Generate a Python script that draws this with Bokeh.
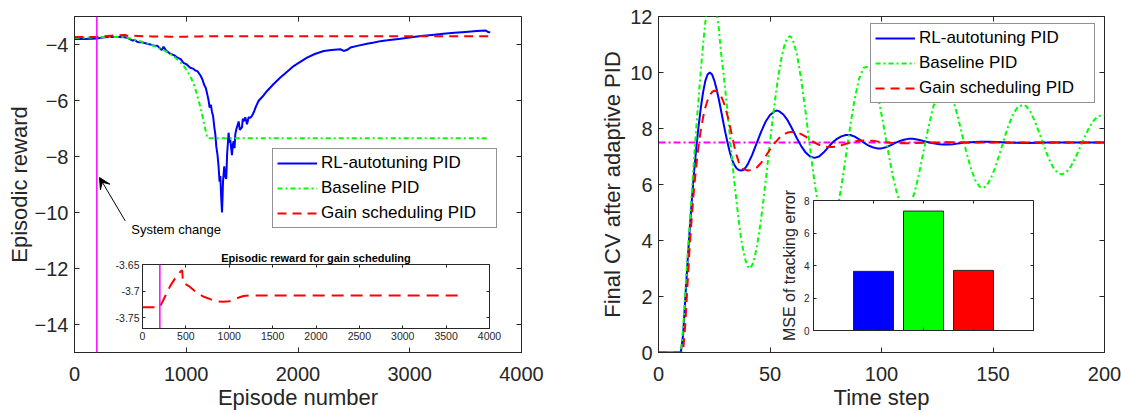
from bokeh.plotting import figure
from bokeh.layouts import row, column
from bokeh.models import (Legend, LegendItem, LinearAxis, FixedTicker, Range1d,
                          Arrow, VeeHead, Label, Span)
from bokeh.embed import file_html
from bokeh.resources import INLINE

# ---------------- data: left panel (episodic reward) ----------------
rl_reward_pts = [
    (0, -3.80), (100, -3.80), (200, -3.79), (250, -3.75), (300, -3.73), (350, -3.73),
    (400, -3.73), (450, -3.74), (480, -3.77), (500, -3.82), (520, -3.86), (540, -3.84),
    (560, -3.90), (580, -3.92), (600, -3.91), (620, -3.94), (650, -3.97), (680, -4.00),
    (700, -4.03), (720, -4.05), (740, -4.04), (760, -4.12), (780, -4.20), (797, -4.08),
    (820, -4.22), (857, -4.33), (890, -4.38), (917, -4.46), (950, -4.52), (976, -4.66),
    (1000, -4.70), (1036, -4.83), (1060, -4.86), (1081, -4.93), (1100, -4.95), (1126, -5.10),
    (1145, -5.25), (1161, -5.45), (1175, -5.55), (1185, -5.72), (1200, -6.00), (1209, -6.25),
    (1220, -6.15), (1230, -6.40), (1240, -6.55), (1251, -6.95), (1260, -7.20), (1269, -7.65),
    (1280, -7.95), (1290, -8.40), (1298, -8.90), (1305, -8.70), (1312, -9.40), (1320, -10.00),
    (1326, -9.30), (1329, -8.90), (1335, -8.60), (1340, -8.35), (1348, -8.70), (1358, -8.80),
    (1366, -7.90), (1379, -7.15), (1386, -7.50), (1394, -7.40), (1402, -7.70), (1409, -7.95),
    (1416, -7.60), (1424, -7.45), (1432, -7.70), (1439, -7.20), (1450, -7.00), (1469, -6.75),
    (1480, -7.05), (1499, -6.95), (1506, -6.65), (1513, -6.75), (1528, -6.60), (1544, -6.85),
    (1558, -6.60), (1573, -6.62), (1588, -6.55), (1603, -6.43), (1625, -6.20), (1648, -6.01),
    (1685, -5.85), (1723, -5.66), (1780, -5.42), (1842, -5.18), (1900, -4.98), (1961, -4.77),
    (2020, -4.62), (2081, -4.47), (2150, -4.34), (2230, -4.23), (2300, -4.20), (2379, -4.17),
    (2409, -4.23), (2440, -4.19), (2469, -4.11), (2540, -4.04), (2618, -3.97), (2680, -3.93),
    (2737, -3.88), (2800, -3.85), (2900, -3.80), (3000, -3.75), (3100, -3.70), (3200, -3.66),
    (3300, -3.62), (3400, -3.58), (3500, -3.55), (3600, -3.52), (3680, -3.50), (3700, -3.55),
    (3720, -3.56),
]
baseline_reward_pts = [
    (0, -3.76), (200, -3.75), (300, -3.73), (450, -3.73), (514, -3.80), (560, -3.85),
    (619, -3.92), (680, -4.00), (738, -4.10), (800, -4.21), (857, -4.34), (900, -4.46),
    (946, -4.63), (980, -4.78), (1006, -4.93), (1040, -5.17), (1066, -5.40), (1090, -5.70),
    (1111, -6.00), (1127, -6.25), (1141, -6.49), (1156, -6.76), (1170, -7.02), (1182, -7.22),
    (1191, -7.35), (3700, -7.35),
]
gs_reward_pts = [
    (0, -3.730), (200, -3.730), (260, -3.710), (320, -3.690), (380, -3.675), (440, -3.663),
    (458, -3.661), (466, -3.684), (530, -3.690), (627, -3.703), (700, -3.710), (781, -3.715),
    (860, -3.719), (935, -3.720), (1000, -3.719), (1050, -3.716), (1110, -3.712), (1165, -3.709),
    (1242, -3.708), (3704, -3.708),
]
system_change_episode = 200
annot_text_xy = (508, -10.62)
annot_arrow_from = (454, -10.3)
annot_arrow_to = (224, -8.75)

# ---------------- data: right panel (step response) ----------------
rl_cv_pts = [
    (0, 0), (10, 0), (11, 0.6), (12, 1.9), (13, 3.2), (14, 4.4), (15, 5.5), (16, 6.5), (17, 7.35),
    (18, 8.1), (19, 8.75), (20, 9.3), (21, 9.7), (22, 9.93), (23, 10.0), (24, 9.93), (25, 9.72),
    (26, 9.42), (27, 9.06), (28, 8.66), (29, 8.25), (30, 7.85), (31, 7.48), (32, 7.15), (33, 6.88),
    (34, 6.7), (35, 6.58), (36, 6.52), (37, 6.5), (38, 6.52), (39, 6.6), (40, 6.72), (42, 7.06),
    (44, 7.47), (46, 7.88), (48, 8.24), (50, 8.48), (52, 8.61), (53, 8.64), (54, 8.62), (56, 8.5),
    (58, 8.28), (60, 7.98), (62, 7.66), (64, 7.37), (66, 7.14), (68, 7.0), (70, 6.95), (72, 7.0),
    (74, 7.14), (76, 7.32), (78, 7.5), (80, 7.63), (82, 7.72), (84, 7.77), (86, 7.77), (88, 7.71),
    (90, 7.61), (92, 7.5), (94, 7.4), (96, 7.33), (98, 7.29), (100, 7.29), (102, 7.33), (104, 7.4),
    (106, 7.48), (108, 7.55), (110, 7.6), (112, 7.63), (114, 7.63), (116, 7.61), (118, 7.57),
    (120, 7.53), (122, 7.49), (124, 7.46), (126, 7.44), (128, 7.43), (130, 7.43), (132, 7.44),
    (134, 7.46), (136, 7.48), (140, 7.51), (144, 7.53), (148, 7.53), (152, 7.52), (156, 7.5),
    (160, 7.49), (165, 7.48), (170, 7.49), (175, 7.5), (200, 7.5),
]
baseline_cv_pts = [
    (0, 0), (10, 0), (11, 0.8), (12, 2.1), (13, 3.4), (14, 4.6), (15, 5.8), (16, 7.0), (17, 8.1),
    (18, 9.1), (19, 10.1), (20, 11.0), (21, 11.8), (22, 12.4), (23, 12.75), (24, 12.8), (25, 12.6),
    (26, 12.2), (27, 11.6), (28, 10.75), (29, 10.08), (30, 9.34), (31, 8.54), (32, 7.71), (33, 6.88),
    (34, 6.1), (35, 5.38), (36, 4.7), (37, 4.1), (38, 3.63), (39, 3.3), (40, 3.07), (41, 3.0),
    (42, 3.12), (43, 3.36), (44, 3.73), (45, 4.21), (46, 4.77), (47, 5.4), (48, 6.08), (49, 6.79),
    (50, 7.5), (51, 8.2), (52, 8.85), (53, 9.46), (54, 10.0), (55, 10.46), (56, 10.83), (57, 11.1),
    (58, 11.25), (59, 11.3), (60, 11.22), (62, 10.68), (64, 9.75), (66, 8.56), (68, 7.28), (70, 6.06),
    (72, 5.07), (74, 4.43), (76, 4.21), (78, 4.39), (80, 5.0), (82, 5.92), (84, 7.0), (86, 8.1),
    (88, 9.07), (90, 9.79), (92, 10.17), (93.5, 10.2), (95, 10.09), (97, 9.64), (99, 8.93),
    (101, 8.07), (103, 7.17), (105, 6.33), (107, 5.66), (109, 5.23), (111, 5.1), (113, 5.28),
    (115, 5.76), (117, 6.45), (119, 7.24), (121, 8.03), (123, 8.71), (125, 9.21), (127, 9.47),
    (128.5, 9.5), (130, 9.4), (132, 9.04), (134, 8.49), (136, 7.83), (138, 7.18), (140, 6.6),
    (142, 6.16), (144, 5.92), (145.5, 5.88), (147, 5.94), (149, 6.21), (151, 6.61), (153, 7.11),
    (155, 7.63), (157, 8.12), (159, 8.5), (161, 8.76), (163.5, 8.85), (165, 8.79), (167, 8.57),
    (169, 8.21), (171, 7.78), (173, 7.34), (175, 6.93), (177, 6.61), (179, 6.41), (181, 6.36),
    (183, 6.45), (185, 6.66), (187, 6.96), (189, 7.32), (191, 7.68), (193, 8.01), (195, 8.27),
    (197, 8.43), (199, 8.48), (200, 8.47),
]
gs_cv_pts = [
    (0, 0), (11, 0), (12, 1.0), (13, 2.4), (14, 3.8), (15, 4.9), (16, 5.9), (17, 6.7), (18, 7.4),
    (19, 7.95), (20, 8.4), (21, 8.75), (22, 9.0), (23, 9.18), (24, 9.3), (25, 9.35), (26, 9.34),
    (27, 9.28), (28, 9.16), (29, 8.98), (30, 8.74), (31, 8.44), (32, 8.1), (33, 7.73), (34, 7.37),
    (35, 7.05), (36, 6.8), (37, 6.64), (38, 6.55), (40, 6.5), (42, 6.52), (44, 6.6), (46, 6.77),
    (48, 7.0), (50, 7.25), (52, 7.47), (54, 7.65), (56, 7.78), (58, 7.86), (60, 7.88), (62, 7.86),
    (64, 7.8), (66, 7.71), (68, 7.6), (70, 7.5), (72, 7.42), (74, 7.37), (76, 7.34), (78, 7.34),
    (80, 7.36), (82, 7.4), (84, 7.45), (86, 7.5), (88, 7.54), (90, 7.56), (92, 7.57), (94, 7.57),
    (96, 7.56), (98, 7.54), (100, 7.52), (104, 7.49), (108, 7.47), (112, 7.47), (116, 7.48),
    (120, 7.49), (125, 7.5), (130, 7.51), (140, 7.5), (200, 7.5),
]
setpoint_t = [0, 200]
setpoint_cv = [7.5, 7.5]

mse_pos = [1, 2, 3]
mse_values = [3.64, 7.35, 3.70]
mse_colors = ["#0000FF", "#00FF00", "#FF0000"]

series_labels = ["RL-autotuning PID", "Baseline PID", "Gain scheduling PID"]
left_xticks = [0, 1000, 2000, 3000, 4000]
left_yticks = [-14, -12, -10, -8, -6, -4]
inset_xticks = [0, 500, 1000, 1500, 2000, 2500, 3000, 3500, 4000]
inset_yticks = [-3.75, -3.7, -3.65]
inset_ylabels = {-3.75: "-3.75", -3.7: "-3.7", -3.65: "-3.65"}
right_xticks = [0, 50, 100, 150, 200]
right_yticks = [0, 2, 4, 6, 8, 10, 12]
bar_yticks = [0, 2, 4, 6, 8]


def xy(pts):
    return [p[0] for p in pts], [p[1] for p in pts]


FONT = "Liberation Sans"
AXC = "#262626"
BLUE, GREEN, RED, MAG = "#0000FF", "#00FF00", "#FF0000", "#FF00FF"
DASHDOT = "5 3 2 3"
DASHED = "9 6"


def mirror_axis(ticks, tick_len):
    return LinearAxis(ticker=FixedTicker(ticks=ticks), major_label_text_font_size="1px",
                      major_label_text_color=None, major_label_standoff=0,
                      major_tick_in=tick_len, major_tick_out=0,
                      minor_tick_line_color=None, axis_line_color=None,
                      major_tick_line_color=AXC)


def style(p, xticks, yticks, tick_px, tick_len=5, xlabel=None, ylabel=None, label_px="22px",
          x_standoff=6, y_standoff=7, xlab_standoff=0, ylab_standoff=5, hide_x_labels=False):
    p.outline_line_color = AXC
    p.outline_line_width = 1
    p.grid.visible = False
    p.xaxis.ticker = FixedTicker(ticks=xticks)
    p.yaxis.ticker = FixedTicker(ticks=yticks)
    for ax in (p.xaxis[0], p.yaxis[0]):
        ax.axis_line_color = AXC
        ax.major_tick_line_color = AXC
        ax.major_tick_in = tick_len
        ax.major_tick_out = 0
        ax.minor_tick_line_color = None
        ax.major_label_text_font = FONT
        ax.major_label_text_font_size = tick_px
        ax.major_label_text_color = AXC
        ax.axis_label_text_font = FONT
        ax.axis_label_text_font_size = label_px
        ax.axis_label_text_font_style = "normal"
        ax.axis_label_text_color = AXC
    p.xaxis.major_label_standoff = x_standoff
    p.yaxis.major_label_standoff = y_standoff
    p.xaxis.axis_label_standoff = xlab_standoff
    p.yaxis.axis_label_standoff = ylab_standoff
    if hide_x_labels:
        p.xaxis.major_label_text_font_size = "1px"
        p.xaxis.major_label_text_color = None
        p.xaxis.major_label_standoff = 0
    if xlabel:
        p.xaxis.axis_label = xlabel
    if ylabel:
        p.yaxis.axis_label = ylabel
    p.add_layout(mirror_axis(xticks, tick_len), "above")
    p.add_layout(mirror_axis(yticks, tick_len), "right")


def make_legend(items, loc):
    return Legend(items=items, location=loc, orientation="vertical",
                  label_text_font=FONT, label_text_font_size="17px", label_text_color="black",
                  glyph_width=40, glyph_height=20, label_height=20, label_width=171,
                  label_standoff=4, spacing=5, padding=4, margin=0,
                  border_line_color=AXC, border_line_width=1,
                  background_fill_color="white", background_fill_alpha=1.0)


# ---------------- left main figure ----------------
p1 = figure(width=560, height=413, x_range=Range1d(0, 4000), y_range=Range1d(-15, -3),
            output_backend="svg", toolbar_location=None,
            min_border_left=74, min_border_right=39, min_border_top=16, min_border_bottom=61)
style(p1, left_xticks, left_yticks, "20px", xlabel="Episode number", ylabel="Episodic reward",
      x_standoff=14, xlab_standoff=1, y_standoff=6, ylab_standoff=0)
p1.add_layout(Span(location=system_change_episode, dimension="height", line_color=MAG,
                   line_width=1.5))
x, y = xy(rl_reward_pts)
r1 = p1.line(x, y, line_color=BLUE, line_width=2)
x, y = xy(baseline_reward_pts)
r2 = p1.line(x, y, line_color=GREEN, line_width=2, line_dash=DASHDOT)
x, y = xy(gs_reward_pts)
r3 = p1.line(x, y, line_color=RED, line_width=2, line_dash=DASHED)
p1.add_layout(make_legend([LegendItem(label=series_labels[0], renderers=[r1]),
                           LegendItem(label=series_labels[1], renderers=[r2]),
                           LegendItem(label=series_labels[2], renderers=[r3])], (198, 124)))
p1.add_layout(Arrow(end=VeeHead(size=11, fill_color="black", line_color="black"),
                    x_start=annot_arrow_from[0], y_start=annot_arrow_from[1],
                    x_end=annot_arrow_to[0], y_end=annot_arrow_to[1],
                    line_color="black", line_width=1))
p1.add_layout(Label(x=annot_text_xy[0], y=annot_text_xy[1], text="System change",
                    text_font=FONT, text_font_size="13px", text_color="black",
                    text_baseline="middle", text_align="left"))

# ---------------- right main figure ----------------
p2 = figure(width=561, height=413, x_range=Range1d(0, 200), y_range=Range1d(0, 12),
            output_backend="svg", toolbar_location=None,
            min_border_left=98, min_border_right=17, min_border_top=16, min_border_bottom=61)
style(p2, right_xticks, right_yticks, "20px", xlabel="Time step",
      ylabel="Final CV after adaptive PID", x_standoff=14, xlab_standoff=1,
      y_standoff=6, ylab_standoff=2)
p2.line(setpoint_t, setpoint_cv, line_color=MAG, line_width=2, line_dash="7 3 2 3")
x, y = xy(rl_cv_pts)
q1 = p2.line(x, y, line_color=BLUE, line_width=2)
x, y = xy(baseline_cv_pts)
q2 = p2.line(x, y, line_color=GREEN, line_width=2, line_dash=DASHDOT)
x, y = xy(gs_cv_pts)
q3 = p2.line(x, y, line_color=RED, line_width=2, line_dash=DASHED)
p2.add_layout(make_legend([LegendItem(label=series_labels[0], renderers=[q1]),
                           LegendItem(label=series_labels[1], renderers=[q2]),
                           LegendItem(label=series_labels[2], renderers=[q3])], (212, 249)))

# ---------------- inset: gain scheduling reward ----------------
pin = figure(width=401, height=96, x_range=Range1d(0, 4000), y_range=Range1d(-3.77, -3.65),
             output_backend="svg", toolbar_location=None,
             min_border_left=40, min_border_right=14, min_border_top=16, min_border_bottom=16,
             title="Episodic reward for gain scheduling",
             border_fill_color=None, background_fill_color="white",
             styles={"position": "absolute", "left": "102px", "top": "248px"})
pin.title.text_font = FONT
pin.title.text_font_size = "11px"
pin.title.text_font_style = "bold"
pin.title.text_color = "black"
pin.title.align = "center"
pin.title.standoff = 2
style(pin, inset_xticks, inset_yticks, "10.5px", tick_len=3, x_standoff=3, y_standoff=3)
pin.yaxis.major_label_overrides = inset_ylabels
pin.add_layout(Span(location=system_change_episode, dimension="height", line_color=MAG,
                    line_width=1.5))
x, y = xy(gs_reward_pts)
pin.line(x, y, line_color=RED, line_width=2, line_dash="12 7")

# ---------------- inset: MSE bars ----------------
pbar = figure(width=274, height=162, x_range=Range1d(-0.2, 4.2), y_range=Range1d(0, 8),
              output_backend="svg", toolbar_location=None,
              min_border_left=40, min_border_right=4, min_border_top=16, min_border_bottom=16,
              border_fill_color=None, background_fill_color="white",
              styles={"position": "absolute", "left": "773px", "top": "184px"})
style(pbar, mse_pos, bar_yticks, "10px", tick_len=3, ylabel="MSE of tracking error",
      label_px="16px", y_standoff=4, ylab_standoff=3, hide_x_labels=True)
pbar.vbar(x=mse_pos, top=mse_values, width=0.8, fill_color=mse_colors,
          line_color=AXC, line_width=1)

layout = column(row(p1, p2), pin, pbar)
open("out.html", "w").write(file_html(layout, INLINE))
